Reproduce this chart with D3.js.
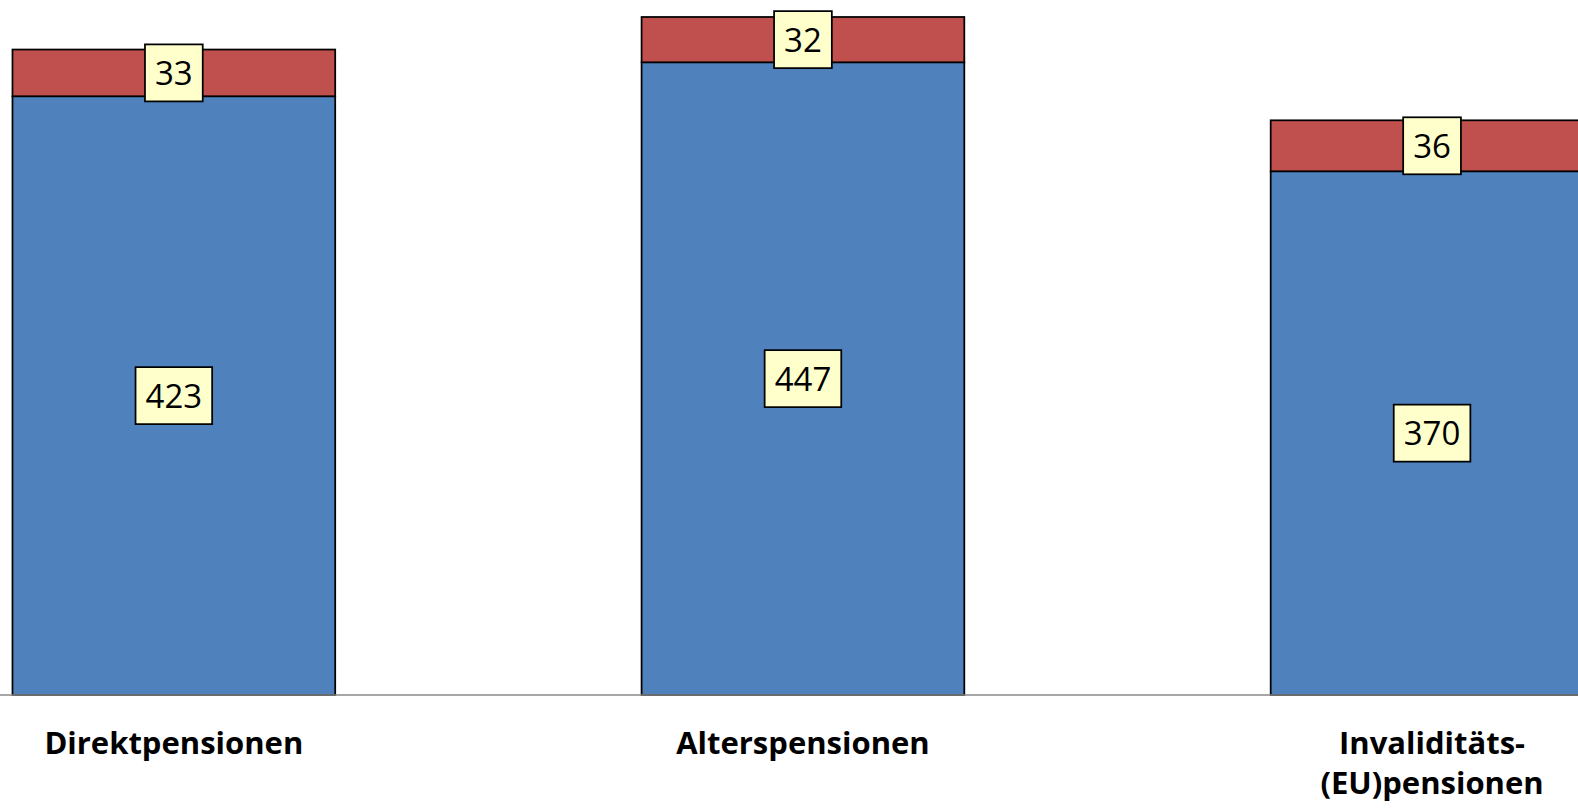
<!DOCTYPE html>
<html>
<head>
<meta charset="utf-8">
<script src="https://cdn.jsdelivr.net/npm/d3@7"></script>
<style>
  html, body { margin: 0; padding: 0; background: #fff; }
  svg { display: block; }
</style>
</head>
<body>
<div id="chart"></div>
<script>
const categories = ['Direktpensionen', 'Alterspensionen', 'Invaliditäts-\n(EU)pensionen']
const seriesKeys = ['basis', 'zusatz']
const basisValues = [423, 447, 370]
const zusatzValues = [33, 32, 36]
const seriesColors = ['#4F81BD', '#C0504D']

const w = 1578
const h = 809
const baseY = 695

const rows = categories.map((c, i) => ({ cat: c, basis: basisValues[i], zusatz: zusatzValues[i] }))
const stacked = d3.stack().keys(seriesKeys)(rows)

const svg = d3.select('#chart').append('svg').attr('width', w).attr('height', h)

const x = d3.scaleBand()
    .domain(categories)
    .range([-140.7, 1746.6])
    .paddingInner(0.487)
    .paddingOuter(0.2435)

const y = d3.scaleLinear().domain([0, 491]).range([baseY, 0])

const color = d3.scaleOrdinal(seriesKeys, seriesColors)

// bars
const layers = svg.append('g').selectAll('g').data(stacked).enter().append('g')
    .attr('fill', (d) => color(d.key))

layers.selectAll('rect').data((d) => d).enter().append('rect')
    .attr('x', (d) => x(d.data.cat))
    .attr('y', (d) => y(d[1]))
    .attr('width', x.bandwidth())
    .attr('height', (d) => y(d[0]) - y(d[1]))
    .attr('stroke', '#000')
    .attr('stroke-width', 1.75)

// baseline
svg.append('line')
    .attr('x1', 0).attr('x2', w)
    .attr('y1', baseY).attr('y2', baseY)
    .attr('stroke', '#898989')
    .attr('stroke-width', 1.5)

// value labels in yellow boxes
const labels = svg.append('g')
stacked.forEach((layer) => {
    layer.forEach((d) => {
        const cx = x(d.data.cat) + x.bandwidth() / 2
        const cy = (y(d[0]) + y(d[1])) / 2
        const g = labels.append('g').attr('transform', `translate(${cx},${cy})`)
        const rect = g.append('rect')
        const t = g.append('text')
            .attr('text-anchor', 'middle')
            .attr('dy', '0.36em')
            .style('font-family', '"Open Sans", sans-serif')
            .style('font-size', '33px')
            .attr('fill', '#000')
            .text(d[1] - d[0])
        const tw = t.node().getComputedTextLength()
        const bw = tw + 20
        const bh = 57
        rect.attr('x', -bw / 2).attr('y', -bh / 2)
            .attr('width', bw).attr('height', bh)
            .attr('fill', '#FFFFCC')
            .attr('stroke', '#000')
            .attr('stroke-width', 1.75)
    })
})

// category labels
const catG = svg.append('g')
categories.forEach((c) => {
    const t = catG.append('text')
        .attr('text-anchor', 'middle')
        .attr('x', x(c) + x.bandwidth() / 2)
        .attr('y', 754)
        .style('font-family', '"Open Sans", sans-serif')
        .style('font-weight', 'bold')
        .style('font-size', '31px')
        .attr('fill', '#000')
    c.split('\n').forEach((line, i) => {
        t.append('tspan')
            .attr('x', x(c) + x.bandwidth() / 2)
            .attr('dy', i === 0 ? 0 : 40)
            .text(line)
    })
})
</script>
</body>
</html>
